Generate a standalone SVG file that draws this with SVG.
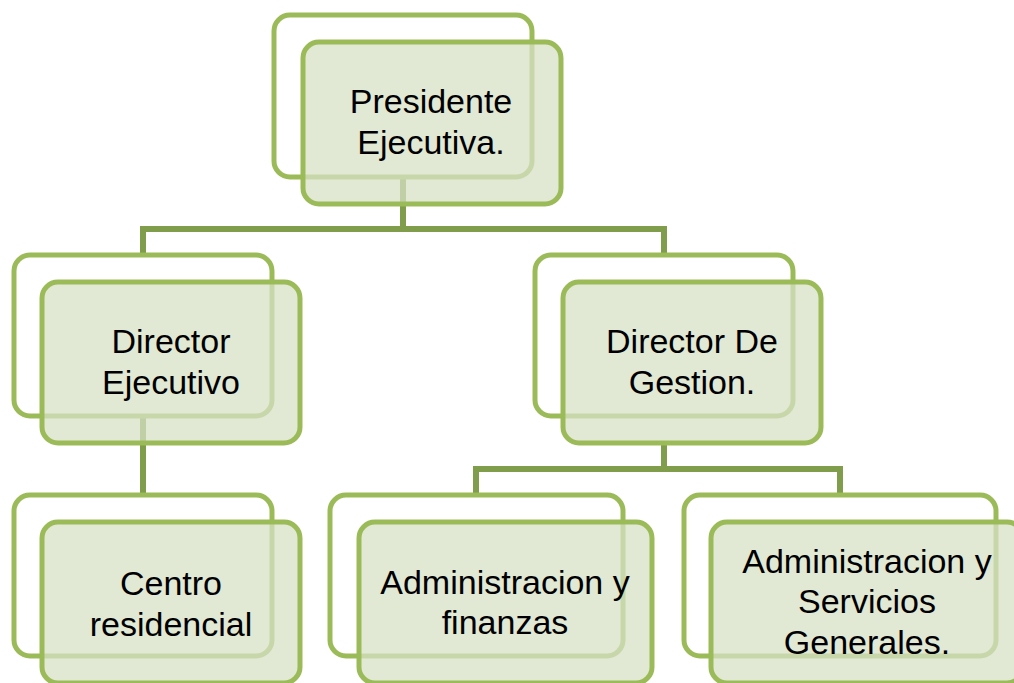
<svg xmlns="http://www.w3.org/2000/svg" width="1014" height="683" viewBox="0 0 1014 683">
<style>
.back{fill:#ffffff;stroke:#9bbb59;stroke-width:5}
.front{fill:#d7e0c6;fill-opacity:0.75;stroke:#9bbb59;stroke-width:5}
.conn{fill:none;stroke:#7f9d4b;stroke-width:6}
text{font-family:"Liberation Sans",Arial,sans-serif;font-size:34px;fill:#000;text-anchor:middle}
</style>
<rect width="1014" height="683" fill="#ffffff"/>
<g id="connectors">
<path class="conn" d="M403 176 V229 M143 229 H662 M143 226 V255 M664 226 V255"/>
<path class="conn" d="M143 415 V495"/>
<path class="conn" d="M664 443 V469 M476 469 H840 M476 466 V495 M840 466 V495"/>
</g>
<g id="presidente">
<rect class="back" x="274" y="15" width="258" height="162" rx="16"/>
<rect class="front" x="303" y="42" width="258" height="162" rx="16"/>
<text x="431" y="113">Presidente</text>
<text x="431" y="154">Ejecutiva.</text>
</g>
<g id="director-ejecutivo">
<rect class="back" x="14" y="255" width="258" height="161" rx="16"/>
<rect class="front" x="42" y="282" width="258" height="161" rx="16"/>
<text x="171" y="353">Director</text>
<text x="171" y="394">Ejecutivo</text>
</g>
<g id="director-gestion">
<rect class="back" x="535" y="255" width="258" height="161" rx="16"/>
<rect class="front" x="563" y="282" width="258" height="161" rx="16"/>
<text x="692" y="353">Director De</text>
<text x="692" y="394">Gestion.</text>
</g>
<g id="centro-residencial">
<rect class="back" x="14" y="495" width="258" height="161" rx="16"/>
<rect class="front" x="42" y="522" width="258" height="161" rx="16"/>
<text x="171" y="595">Centro</text>
<text x="171" y="636">residencial</text>
</g>
<g id="admin-finanzas">
<rect class="back" x="330" y="495" width="293" height="161" rx="16"/>
<rect class="front" x="359" y="522" width="293" height="161" rx="16"/>
<text x="505" y="594">Administracion y</text>
<text x="505" y="634">finanzas</text>
</g>
<g id="admin-servicios">
<rect class="back" x="684" y="495" width="312" height="161" rx="16"/>
<rect class="front" x="711" y="522" width="312" height="161" rx="16"/>
<text x="867" y="573">Administracion y</text>
<text x="867" y="613">Servicios</text>
<text x="867" y="654">Generales.</text>
</g>
</svg>
